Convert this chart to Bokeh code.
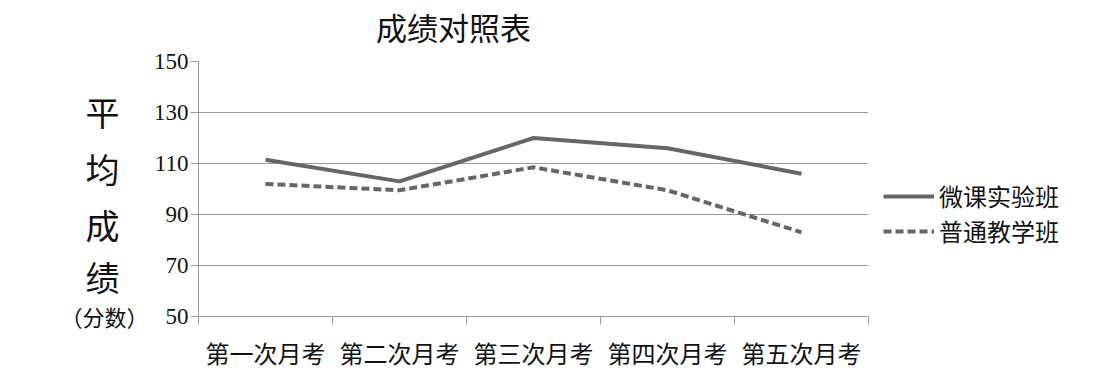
from bokeh.plotting import figure
from bokeh.layouts import row, column
from bokeh.models import Range1d, FixedTicker, Legend, LegendItem
from bokeh.core.properties import value
from bokeh.embed import file_html
from bokeh.resources import INLINE

categories = ["第一次月考", "第二次月考", "第三次月考", "第四次月考", "第五次月考"]
weike = [111.5, 103, 120, 116, 106]
putong = [102, 99.5, 108.5, 99.5, 83]
y_ticks = [50, 70, 90, 110, 130, 150]
series_names = ["微课实验班", "普通教学班"]
title_text = "成绩对照表"
ylabel_chars = ["平", "均", "成", "绩"]
ylabel_unit = "（分数）"

xs = [i + 0.5 for i in range(len(categories))]
Y0, Y1 = 50, 150

CJK = "'Noto Sans CJK SC'"
NUM = "'Liberation Serif', 'Noto Sans CJK SC'"
GRAY = "#9a9a9a"
LINE = "#666666"
TXT = "#111111"

W, H = 1104, 378
LW = 150          # left strip width
TH = 48           # title strip height
FL, FW, FH = 197, 670, 255   # frame left, width, height
TOP = 61 - TH
BOT = H - 61 - FH


def bare(fig):
    fig.axis.visible = False
    fig.grid.visible = False
    fig.outline_line_color = None
    fig.background_fill_color = "white"
    fig.border_fill_color = "white"


# ---- title strip ----
tp = figure(width=W, height=TH, output_backend="svg", toolbar_location=None, title=None,
            x_range=Range1d(0, len(categories)), y_range=Range1d(TH, 0),
            frame_width=FW, frame_height=TH,
            min_border_left=FL, min_border_right=W - FL - FW,
            min_border_top=0, min_border_bottom=0)
bare(tp)
tp.text(x=[1.91], y=[25.5], text=[title_text], text_font=value("Noto Sans CJK SC"),
        text_font_size="31px", text_color=TXT, text_align="center", text_baseline="middle")

# ---- left strip holding the vertical axis title ----
lp = figure(width=LW, height=H - TH, output_backend="svg", toolbar_location=None, title=None,
            x_range=Range1d(0, LW), y_range=Range1d(Y0, Y1),
            frame_width=LW, frame_height=FH,
            min_border_left=0, min_border_right=0, min_border_top=TOP, min_border_bottom=BOT)
bare(lp)
lp.text(x=[102] * 4, y=[130.4, 108.0, 86.1, 65.7], text=ylabel_chars,
        text_font=value("Noto Sans CJK SC"), text_font_size="34px",
        text_color=TXT, text_align="center", text_baseline="middle")
lp.xaxis.visible = True
lp.xaxis.ticker = FixedTicker(ticks=[108])
lp.xaxis.major_label_overrides = {108: ylabel_unit}
lp.xaxis.axis_line_color = None
lp.xaxis.major_tick_line_color = None
lp.xaxis.minor_tick_line_color = None
lp.xaxis.major_tick_out = 0
lp.xaxis.major_tick_in = 0
lp.xaxis.major_label_standoff = -17
lp.xaxis.major_label_text_font = CJK
lp.xaxis.major_label_text_font_size = "22px"
lp.xaxis.major_label_text_color = TXT

# ---- main chart ----
p = figure(width=W - LW, height=H - TH, output_backend="svg", toolbar_location=None, title=None,
           x_range=Range1d(0, len(categories)), y_range=Range1d(Y0, Y1),
           frame_width=FW, frame_height=FH,
           min_border_left=FL - LW, min_border_right=W - FL - FW,
           min_border_top=TOP, min_border_bottom=BOT)
p.outline_line_color = None
p.background_fill_color = "white"
p.border_fill_color = "white"

# y axis
p.yaxis.ticker = FixedTicker(ticks=y_ticks)
p.yaxis.axis_line_color = GRAY
p.yaxis.major_tick_line_color = GRAY
p.yaxis.major_tick_out = 8
p.yaxis.major_tick_in = 0
p.yaxis.minor_tick_line_color = None
p.yaxis.major_label_text_font = NUM
p.yaxis.major_label_text_font_size = "23px"
p.yaxis.major_label_text_color = TXT
p.yaxis.major_label_standoff = 2

# x axis
p.xaxis.ticker = FixedTicker(ticks=xs, minor_ticks=list(range(len(categories) + 1)))
p.xaxis.major_label_overrides = {x: c for x, c in zip(xs, categories)}
p.xaxis.axis_line_color = GRAY
p.xaxis.major_tick_line_color = None
p.xaxis.minor_tick_line_color = GRAY
p.xaxis.minor_tick_out = 8
p.xaxis.minor_tick_in = 0
p.xaxis.major_label_text_font = CJK
p.xaxis.major_label_text_font_size = "24px"
p.xaxis.major_label_text_color = TXT
p.xaxis.major_label_standoff = 10

p.xgrid.grid_line_color = None
p.ygrid.grid_line_color = GRAY
p.ygrid.grid_line_width = 1

r1 = p.line(xs, weike, line_color=LINE, line_width=4)
r2 = p.line(xs, putong, line_color=LINE, line_width=4, line_dash="8 4")

legend = Legend(items=[LegendItem(label=series_names[0], renderers=[r1]),
                       LegendItem(label=series_names[1], renderers=[r2])],
                location=(15, 68))
legend.border_line_color = None
legend.background_fill_alpha = 0
legend.label_text_font = CJK
legend.label_text_font_size = "24px"
legend.label_text_color = TXT
legend.label_standoff = 5
legend.glyph_width = 51
legend.glyph_height = 24
legend.label_height = 24
legend.spacing = -2
legend.padding = 0
legend.margin = 0
p.add_layout(legend, "right")

layout = column(tp, row(lp, p, spacing=0), spacing=0)
open("out.html", "w").write(file_html(layout, INLINE))
